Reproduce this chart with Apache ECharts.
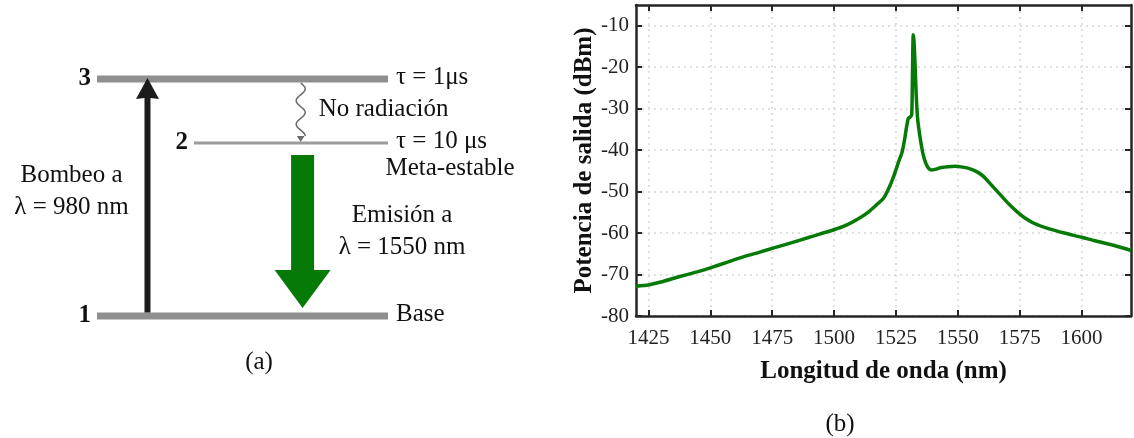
<!DOCTYPE html>
<html><head><meta charset="utf-8">
<script src="https://cdn.jsdelivr.net/npm/echarts@6/dist/echarts.min.js"></script>
<style>html,body{margin:0;padding:0;background:#fff}#c{width:1134px;height:438px}</style>
</head><body><div id="c"></div>
<script>
// ---- (b) spectrum data ----
const wavelength = [1420,1425,1430,1437,1445,1450,1457,1463,1470,1475,1482,1490,1500,1505,1510,1514,1517,1520,1522,1524,1526,1527.5,1528.5,1529.3,1530,1530.8,1531.4,1531.7,1532.0,1532.3,1532.7,1533.2,1533.8,1534.8,1536,1537.2,1538.4,1539.5,1541,1543.5,1546,1549,1552,1555,1558,1560.5,1563,1566.5,1570,1574,1577,1581,1587,1593,1600,1605,1610,1615,1620];
const power = [-72.8,-72.5,-71.8,-70.6,-69.3,-68.4,-67.0,-65.8,-64.6,-63.7,-62.5,-61.0,-59.2,-58.1,-56.5,-54.9,-53.3,-51.6,-49.4,-46.5,-43.0,-40.5,-37.5,-34.5,-32.4,-32.0,-31.5,-22,-12.2,-13.5,-18.5,-26.5,-32.5,-37.0,-41.0,-43.3,-44.5,-44.8,-44.6,-44.2,-44.0,-43.9,-44.1,-44.5,-45.3,-46.4,-48.0,-50.3,-52.6,-54.9,-56.3,-57.7,-59.0,-60.0,-61.0,-61.8,-62.5,-63.3,-64.2];
const xTicks = [1425,1450,1475,1500,1525,1550,1575,1600];
const yTicks = [-80,-70,-60,-50,-40,-30,-20,-10];

// ---- (a) energy level schematic (normalized schematic units) ----
const levelNames = ['1','2','3'];
const levelEnergy = [0, 0.73, 1];
const levelStart = [0, 0.333, 0];
const levelEnd = [1, 1, 1];
const levelNotes = ['Base','τ = 10 μs','τ = 1μs'];
const levelSubNotes = ['','Meta-estable',''];
const transitionKinds = ['pump','nonrad','emission'];
const transitionPos = [0.1735, 0.70, 0.7065];
const transitionFrom = [0, 2, 1];   // level index
const transitionTo = [2, 1, 0];
const transitionText = [['Bombeo a','λ = 980 nm'], ['No radiación'], ['Emisión a','λ = 1550 nm']];

const SERIF = '"Liberation Serif","Times New Roman",serif';
const TXT = '#111';
const GREEN = '#067a06';

const chart = echarts.init(document.getElementById('c'), null, {renderer:'canvas'});

function txt(x, y, s, opt) {
  opt = opt || {};
  return {type:'text', style:{x:x, y:y, text:s, fill:TXT,
    font:(opt.bold?'bold ':'') + (opt.size||25) + 'px ' + SERIF,
    align:opt.align||'left', verticalAlign:'middle'}};
}

function renderLevel(params, api) {
  const i = params.dataIndex;
  const e = api.value(2);
  const p0 = api.coord([api.value(0), e]);
  const p1 = api.coord([api.value(1), e]);
  const thick = i === 1 ? 3 : 7;
  const children = [
    {type:'rect', shape:{x:p0[0], y:p0[1]-thick/2, width:p1[0]-p0[0], height:thick},
     style:{fill: i === 1 ? '#9c9c9c' : '#8f8f8f'}},
    txt(p0[0]-6, p0[1], levelNames[i], {bold:true, align:'right'}),
    txt(p1[0]+8, p0[1]-2, levelNotes[i])
  ];
  if (levelSubNotes[i]) children.push(txt(p1[0]+62, p0[1]+25, levelSubNotes[i], {align:'center'}));
  return {type:'group', children:children};
}

function renderTransition(params, api) {
  const k = transitionKinds[params.dataIndex];
  const lines = transitionText[params.dataIndex];
  const pA = api.coord([api.value(0), api.value(1)]);
  const pB = api.coord([api.value(0), api.value(2)]);
  const x = pA[0];
  const children = [];
  if (k === 'pump') {
    const yb = pA[1] - 3.5, yt = pB[1] - 1, hl = 21, hw = 11.5, sw = 3;
    children.push({type:'polygon', shape:{points:[[x-sw,yb],[x+sw,yb],[x+sw,yt+hl-1],[x+hw,yt+hl],[x,yt],[x-hw,yt+hl],[x-sw,yt+hl-1]]}, style:{fill:'#1c1c1c'}});
    const mid = (pA[1] + pB[1]) / 2;
    children.push(txt(x-76, mid-22.5, lines[0], {align:'center'}));
    children.push(txt(x-76, mid+9.5, lines[1], {align:'center'}));
  } else if (k === 'nonrad') {
    const y0 = pA[1] + 4, y1 = pB[1] - 1, al = 6;
    const pts = [];
    const n = 60;
    for (let j = 0; j <= n; j++) {
      const t = j / n;
      pts.push([x + 4.5 * Math.sin(t * Math.PI * 4.5), y0 + t * (y1 - al - y0)]);
    }
    children.push({type:'polyline', shape:{points:pts, smooth:0.3}, style:{stroke:'#6b6b6b', lineWidth:1.5, fill:null}});
    children.push({type:'polygon', shape:{points:[[x-3.8,y1-al],[x+3.8,y1-al],[x,y1]]}, style:{fill:'#6b6b6b'}});
    children.push(txt(x+18, (y0+y1)/2 - 3, lines[0]));
  } else {
    const yt = pA[1] + 12, yp = pB[1] - 8, hl = 38, hw = 28, sw = 11.5;
    children.push({type:'polygon', shape:{points:[[x-sw,yt],[x+sw,yt],[x+sw,yp-hl],[x+hw,yp-hl],[x,yp],[x-hw,yp-hl],[x-sw,yp-hl]]}, style:{fill:GREEN}});
    const mid = (yt + yp) / 2;
    children.push(txt(x+99.5, mid-16.5, lines[0], {align:'center'}));
    children.push(txt(x+99.5, mid+15.5, lines[1], {align:'center'}));
  }
  return {type:'group', children:children};
}

const axisLineStyle = {color:'#262626', width:2.5};
const labelStyle = {color:'#222', fontFamily:SERIF, fontSize:21};
const nameStyle = {color:'#111', fontFamily:SERIF, fontSize:25, fontWeight:'bold'};
const plain = v => String(v);

const option = {
  animation:false,
  backgroundColor:'#fff',
  grid:[
    {left:636, top:5, width:495, height:311, containLabel:false, outerBoundsMode:'none'},
    {left:97, top:79, width:291, height:237, containLabel:false, outerBoundsMode:'none'}
  ],
  xAxis:[
    {type:'value', gridIndex:0, min:1420, max:1620, position:'bottom',
     axisLine:{show:true, onZero:false, lineStyle:axisLineStyle},
     axisTick:{show:true, inside:true, length:6, customValues:xTicks, lineStyle:{color:'#262626', width:2}},
     axisLabel:{show:true, margin:12, customValues:xTicks, formatter:plain, ...labelStyle},
     splitLine:{show:true, lineStyle:{color:'#d6d6d6', width:1.5, type:[2,4]}},
     name:'Longitud de onda (nm)', nameLocation:'middle', nameGap:43, nameTextStyle:nameStyle},
    {type:'value', gridIndex:0, min:1420, max:1620, position:'top',
     axisLine:{show:true, onZero:false, lineStyle:axisLineStyle},
     axisTick:{show:true, inside:true, length:6, customValues:xTicks, lineStyle:{color:'#262626', width:2}},
     axisLabel:{show:false}, splitLine:{show:false}},
    {type:'value', gridIndex:1, min:0, max:1, show:false}
  ],
  yAxis:[
    {type:'value', gridIndex:0, min:-80, max:-5, interval:10, position:'left',
     axisLine:{show:true, onZero:false, lineStyle:axisLineStyle},
     axisTick:{show:true, inside:true, length:6, customValues:yTicks, lineStyle:{color:'#262626', width:2}},
     axisLabel:{show:true, margin:7, customValues:yTicks, formatter:plain, ...labelStyle},
     splitLine:{show:true, lineStyle:{color:'#d6d6d6', width:1.5, type:[2,4]}},
     name:'Potencia de salida (dBm)', nameLocation:'middle', nameGap:38, nameTextStyle:nameStyle},
    {type:'value', gridIndex:0, min:-80, max:-5, interval:10, position:'right',
     axisLine:{show:true, onZero:false, lineStyle:axisLineStyle},
     axisTick:{show:true, inside:true, length:6, customValues:yTicks, lineStyle:{color:'#262626', width:2}},
     axisLabel:{show:false}, splitLine:{show:false}},
    {type:'value', gridIndex:1, min:0, max:1, show:false}
  ],
  graphic:[
    {type:'text', x:259, y:362, style:{text:'(a)', font:'25px '+SERIF, fill:TXT, align:'center', verticalAlign:'middle'}},
    {type:'text', x:840, y:424, style:{text:'(b)', font:'25px '+SERIF, fill:TXT, align:'center', verticalAlign:'middle'}}
  ],
  series:[
    {type:'line', xAxisIndex:0, yAxisIndex:0, data:wavelength.map((w,i)=>[w, power[i]]),
     showSymbol:false, symbol:'none', smooth:0.2, lineStyle:{color:GREEN, width:3.5}, z:5},
    {type:'custom', xAxisIndex:2, yAxisIndex:2, coordinateSystem:'cartesian2d', clip:false,
     data:levelNames.map((n,i)=>[levelStart[i], levelEnd[i], levelEnergy[i]]),
     encode:{x:[0,1], y:2}, renderItem:renderLevel, z:2},
    {type:'custom', xAxisIndex:2, yAxisIndex:2, coordinateSystem:'cartesian2d', clip:false,
     data:transitionKinds.map((k,i)=>[transitionPos[i], levelEnergy[transitionFrom[i]], levelEnergy[transitionTo[i]]]),
     encode:{x:0, y:[1,2]}, renderItem:renderTransition, z:3}
  ]
};
chart.setOption(option);
</script></body></html>
